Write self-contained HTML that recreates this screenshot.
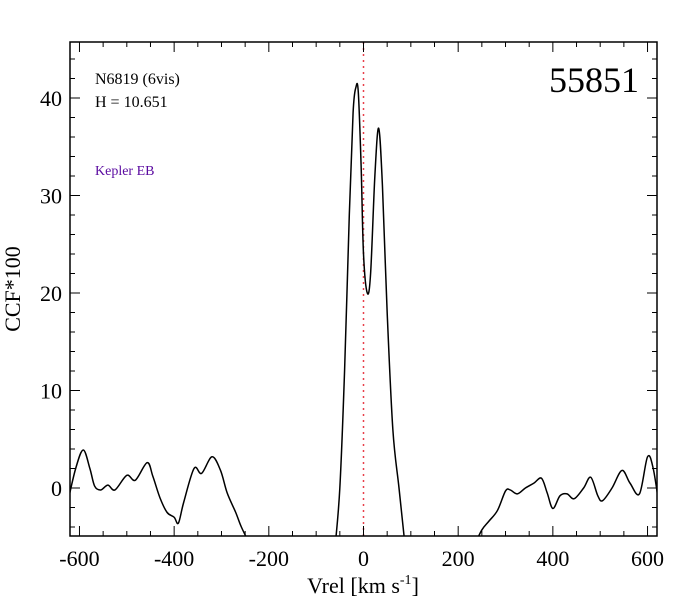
<!DOCTYPE html><html><head><style>body{margin:0;background:#fff}svg{display:block}text{font-family:"Liberation Serif",serif}</style></head><body>
<svg id="s" width="675" height="600" viewBox="0 0 675 600"></svg>
<script>
const s=document.getElementById('s');
const L=70,R=657,T=42,B=536;
const X=v=>363.5+v*(R-L)/1240, Y=c=>488-c*9.75;
let h='';
h+=`<line x1="${X(0)}" y1="${T}" x2="${X(0)}" y2="${B}" stroke="#e8404a" stroke-width="1.5" stroke-dasharray="2,4"/>`;
function curve(pts){let p=pts.map(a=>[X(a[0]),Y(a[1])]);let d=`M${p[0][0]},${p[0][1]}`;
for(let i=0;i<p.length-1;i++){const p0=p[i-1]||p[i],p1=p[i],p2=p[i+1],p3=p[i+2]||p2;
d+=`C${p1[0]+(p2[0]-p0[0])/6},${p1[1]+(p2[1]-p0[1])/6} ${p2[0]-(p3[0]-p1[0])/6},${p2[1]-(p3[1]-p1[1])/6} ${p2[0]},${p2[1]}`;}
return `<path d="${d}" fill="none" stroke="#000" stroke-width="1.5"/>`;}
h+=`<clipPath id="c"><rect x="${L}" y="${T}" width="${R-L}" height="${B-T}"/></clipPath><g clip-path="url(#c)">`;
h+=curve([[-625,-1.5],[-608,2],[-592,3.9],[-578,2],[-568,0.2],[-555,-0.2],[-540,0.3],[-525,-0.2],[-500,1.3],[-482,0.8],[-457,2.6],[-445,1.2],[-430,-1],[-415,-2.5],[-400,-3],[-391,-3.6],[-380,-1.5],[-358,2],[-342,1.5],[-320,3.2],[-302,1.8],[-288,-0.5],[-270,-2.5],[-258,-4],[-240,-5.8]]);
h+=curve([[-60,-6],[-50,0],[-40,12],[-30,28],[-22,38.5],[-16,41.1],[-11,40.6],[-5,33],[0,24],[8,20],[15,22],[24,32],[32,36.9],[40,31],[50,18],[62,6],[75,0],[88,-6]]);
h+=curve([[235,-5.8],[250,-4.3],[265,-3.4],[283,-2.3],[300,-0.3],[310,-0.2],[325,-0.6],[342,0],[360,0.5],[376,1],[388,-0.5],[400,-2.1],[415,-0.8],[430,-0.6],[445,-1.1],[465,0],[480,1.1],[495,-0.8],[505,-1.3],[525,0],[546,1.8],[563,0.5],[583,-0.6],[600,3.2],[612,2],[625,-2]]);
h+='</g>';
h+=`<rect x="${L}" y="${T}" width="${R-L}" height="${B-T}" fill="none" stroke="#000" stroke-width="1.5"/>`;
for(let v=-600;v<=600;v+=50){const x=X(v),m=v%200==0?10:5;h+=`<line x1="${x}" y1="${B}" x2="${x}" y2="${B-m}" stroke="#000"/><line x1="${x}" y1="${T}" x2="${x}" y2="${T+m}" stroke="#000"/>`;
if(v%200==0)h+=`<text x="${x}" y="566" font-size="22" text-anchor="middle">${v}</text>`;}
for(let c=-4;c<=44;c+=2){const y=Y(c),m=c%10==0?10:5;h+=`<line x1="${L}" y1="${y}" x2="${L+m}" y2="${y}" stroke="#000"/><line x1="${R}" y1="${y}" x2="${R-m}" y2="${y}" stroke="#000"/>`;
if(c%10==0)h+=`<text x="62" y="${y+8}" font-size="22" text-anchor="end">${c}</text>`;}
h+=`<text x="363" y="593" font-size="22" text-anchor="middle">Vrel [km s<tspan font-size="14" dy="-9">-1</tspan><tspan dy="9">]</tspan></text>`;
h+=`<text transform="translate(20,289) rotate(-90)" font-size="22" text-anchor="middle">CCF*100</text>`;
h+=`<text x="95" y="84" font-size="16">N6819 (6vis)</text><text x="95" y="107" font-size="16">H = 10.651</text>`;
h+=`<text x="95" y="175" font-size="14" fill="#5a0aa0">Kepler EB</text>`;
h+=`<text x="639" y="92" font-size="36" text-anchor="end">55851</text>`;
s.innerHTML=h;
</script></body></html>
